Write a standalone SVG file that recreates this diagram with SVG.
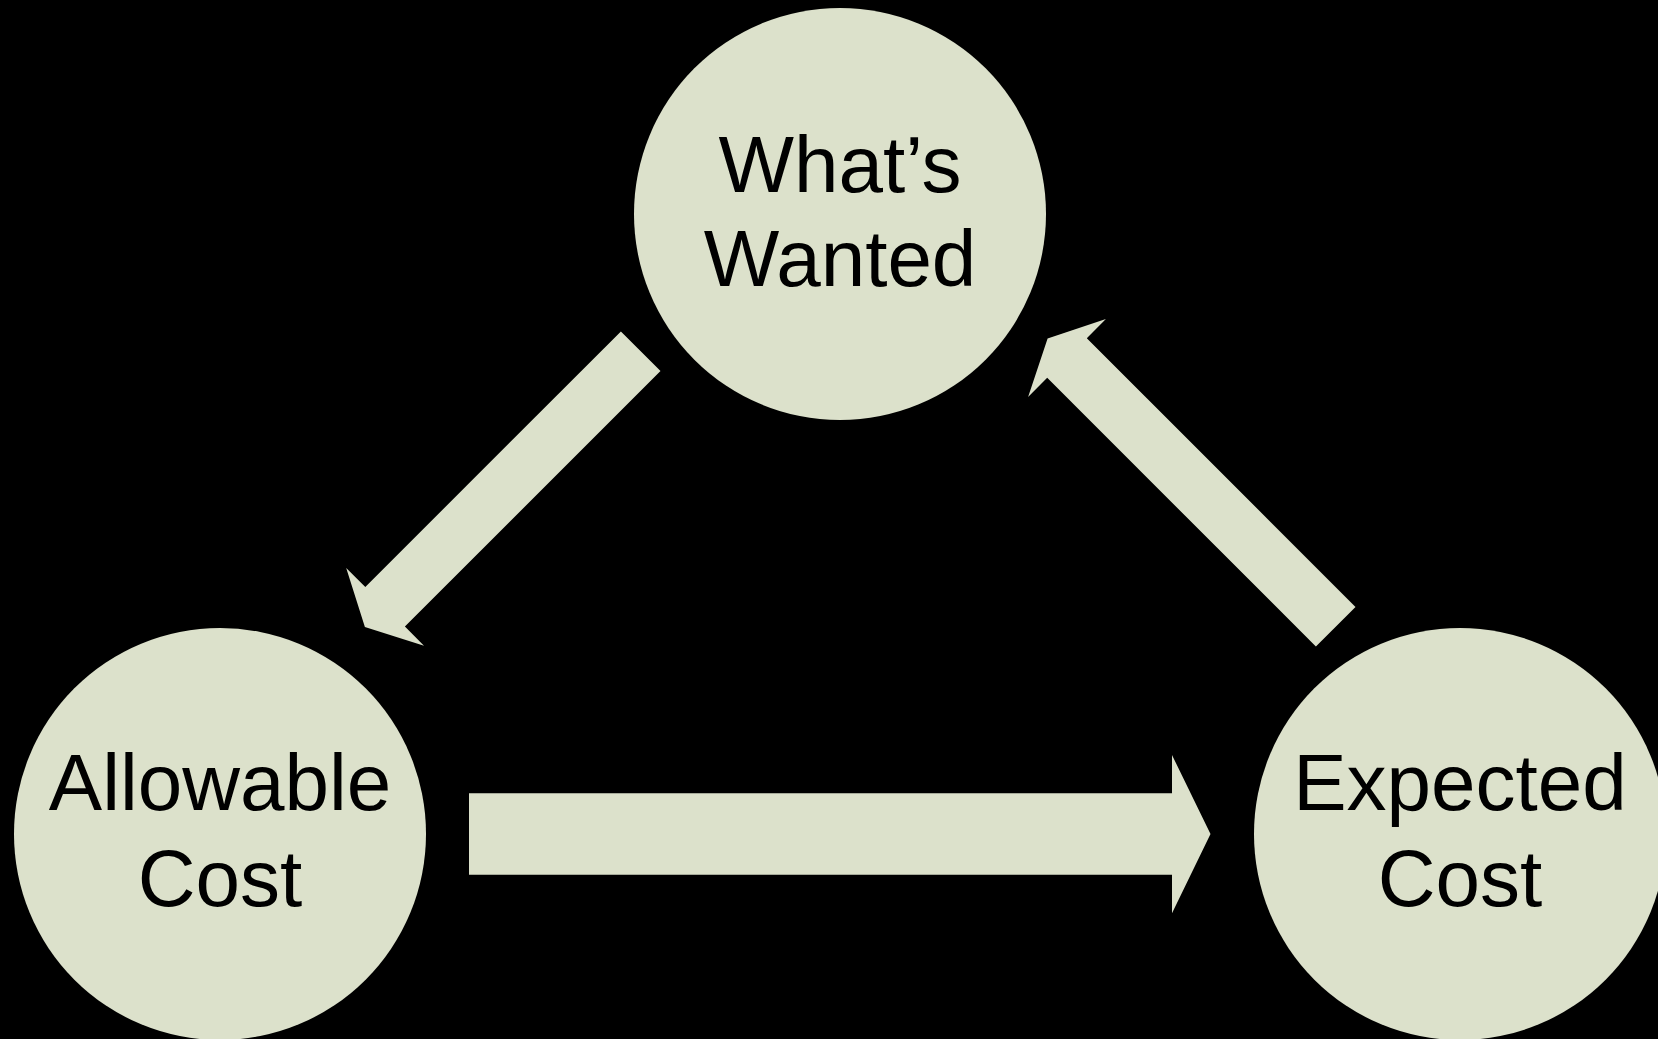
<svg xmlns="http://www.w3.org/2000/svg" width="1658" height="1039" viewBox="0 0 1658 1039">
  <style>
    .node { fill: #DCE1CB; }
    .arrow { fill: #DCE1CB; }
    .label { font-family: "Liberation Sans", Arial, sans-serif; font-size: 80px; fill: #000000; text-anchor: middle; }
  </style>
  <rect x="0" y="0" width="1658" height="1039" fill="#000000"/>

  <!-- block arrows between the three nodes -->
  <g id="connectors">
    <polygon class="arrow" points="620.9,331.4 660.5,371.0 404.9,626.6 424.0,645.7 364.9,627.0 346.2,567.9 365.3,587.0"/>
    <polygon class="arrow" points="1355.5,606.9 1315.9,646.5 1047.2,377.8 1028.1,396.9 1047.6,338.6 1105.9,319.1 1086.8,338.2"/>
    <polygon class="arrow" points="469,793.3 1172,793.3 1172,755 1210.5,834 1172,913.3 1172,874.7 469,874.7"/>
  </g>

  <g id="whats-wanted">
    <circle class="node" cx="840" cy="214" r="206"/>
    <text class="label" x="840" y="192">What’s</text>
    <text class="label" x="840" y="286">Wanted</text>
  </g>

  <g id="allowable-cost">
    <circle class="node" cx="220" cy="834" r="206"/>
    <text class="label" x="220" y="810">Allowable</text>
    <text class="label" x="220" y="906">Cost</text>
  </g>

  <g id="expected-cost">
    <circle class="node" cx="1460" cy="834" r="206"/>
    <text class="label" x="1460" y="810">Expected</text>
    <text class="label" x="1460" y="906">Cost</text>
  </g>
</svg>
